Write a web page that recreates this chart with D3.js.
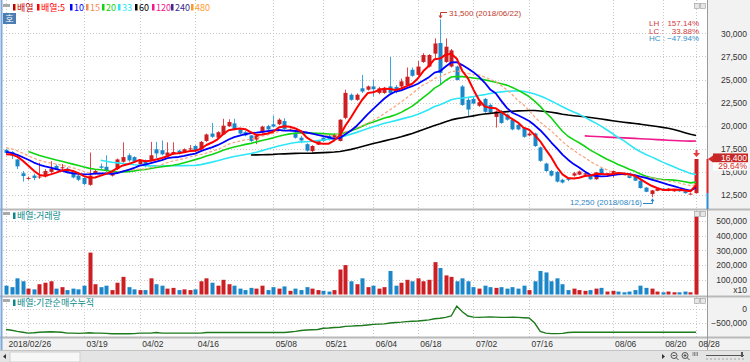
<!DOCTYPE html>
<html>
<head>
<meta charset="utf-8">
<script src="https://cdn.jsdelivr.net/npm/d3@7"></script>
<style>
  body { margin: 0; background: #fff; }
  svg { display: block; font-family: "Liberation Sans", Arial, sans-serif; }
  .kr { font-family: "Noto Sans CJK KR", sans-serif; }
</style>
</head>
<body>
<svg id="chart" width="750" height="362"></svg>
<script>
// KRX holidays inside the visible range
const holidays = ["2018-03-01", "2018-05-01", "2018-05-07", "2018-05-22", "2018-06-06", "2018-06-13", "2018-08-15"];

const tickDates = ["2018-02-26", "2018-03-19", "2018-04-02", "2018-04-16", "2018-05-08", "2018-05-21", "2018-06-04",
  "2018-06-18", "2018-07-02", "2018-07-16", "2018-08-06", "2018-08-20", "2018-08-28"];
const tickLabels = ["2018/02/26", "03/19", "04/02", "04/16", "05/08", "05/21", "06/04",
  "06/18", "07/02", "07/16", "08/06", "08/20", "08/28"];
const extraGrid = ["2018-03-05"];

const opens = [17400,17150,16350,14850,14300,14600,14400,14500,15000,15650,
  15450,15350,15100,14600,14350,13600,14850,15600,15550,14600,
  15300,16100,16800,16600,15850,16200,16250,17450,17350,16750,
  16900,17300,17150,17500,17800,17450,18350,19150,18700,19050,
  19950,20250,19600,19300,18950,18500,19250,19950,20150,20150,
  20500,19500,19250,18700,18000,17250,17950,18700,18900,18700,
  18350,20850,23350,22800,24050,23900,24250,23550,23550,24250,
  24200,24250,24400,26050,25500,26900,26400,27800,28950,26900,
  26400,26400,24250,22800,22900,22150,22900,22250,20950,21550,
  21200,20650,20100,19750,18950,19150,17650,15900,15100,15000,
  14150,14250,14600,14700,14700,14600,14200,15350,14700,14800,
  14950,14800,14750,14600,14050,13300,12600,12950,13200,12950,
  12900,13050,12900,12600,12700];
const highs = [17500,17250,16400,15100,14500,14800,16000,15300,16150,15800,
  15850,15500,15200,14700,14400,17100,15300,15900,16800,15100,
  16450,18200,17000,16700,16300,16350,18250,18250,18400,18200,
  18200,17400,17550,17900,17900,18350,19150,20300,19400,20750,
  20700,20750,19700,19450,19000,19050,20000,20100,21100,20800,
  20800,19700,19350,18900,18100,17900,18400,18750,19000,19150,
  20700,23900,23500,23500,25500,24350,25000,24200,24200,27450,
  24400,25100,26300,26300,27000,27850,27750,29450,31500,29450,
  28300,26500,24400,23000,23100,22700,23000,22400,21650,21700,
  21300,20800,20200,19850,19300,19250,17750,16000,15200,15100,
  14250,14300,15000,15150,14950,14700,15000,15450,14900,15150,
  15000,14850,14800,14650,14100,13350,13050,13200,13250,13250,
  13150,13100,12950,12750,16400];
const lows = [16950,16400,15300,13950,14150,14100,14250,14400,14900,15200,
  15150,14850,14300,14000,13550,13500,14700,15300,15000,14500,
  15200,16000,16100,15950,15750,15500,16150,16500,16800,16650,
  16850,16900,17050,17300,17150,17400,18250,18700,18600,19000,
  19850,19500,19050,18850,18250,18000,19150,19500,19800,20050,
  19550,19400,18600,18100,17200,17150,17900,18250,18400,18600,
  18300,20700,22700,22700,23550,23800,23150,23400,23450,23450,
  23500,23800,24300,25300,25400,26800,26300,27300,24450,26800,
  26300,24900,22150,21000,22300,22050,21400,21350,19800,20200,
  20550,19500,19500,18700,18850,17700,16100,15000,14500,13850,
  13750,14000,14500,14650,14600,14150,14150,14700,14650,14400,
  14650,14650,14300,14000,13200,12800,12250,12900,12950,12900,
  12850,12850,12650,12550,12650];
const closes = [17050,16750,15600,14550,14350,14350,14500,15100,15350,15300,
  15500,14950,14400,14150,13700,14600,15100,15450,15100,15000,
  16350,16600,16250,16100,16200,15650,16800,17000,16900,17100,
  17150,17000,17450,17550,17250,18250,19050,18800,19300,20000,
  20400,19600,19150,18950,18350,18950,19900,19600,19900,20650,
  19650,19600,18700,18400,17300,17800,18350,18350,18500,19050,
  20650,23550,22800,23350,23700,24250,23950,24050,24100,23550,
  23650,24800,25300,25400,26400,27650,27650,28900,25700,28550,
  28150,24950,22250,21750,22400,22550,21500,21450,21550,20300,
  20650,19600,19600,18800,19150,17800,16200,15100,14600,13950,
  13850,14150,14850,15050,14850,14200,14950,14750,14850,15100,
  14700,14700,14350,14050,13250,12850,13000,13150,13000,13200,
  13100,12900,12700,12650,16400];
// closes of the sessions before the first visible candle (feed the moving averages)
const priorCloses = [18700,18900,18600,18500,18400,18450,17900,17600,17200,17000,17400,16900,16700,16800,17050];

const volumes = [60000,50000,110000,90000,40000,35000,70000,80000,90000,40000,
  50000,30000,40000,35000,60000,285000,70000,50000,60000,30000,
  80000,120000,50000,35000,30000,30000,110000,70000,60000,40000,
  45000,30000,35000,30000,35000,90000,110000,80000,60000,100000,
  70000,60000,40000,30000,45000,40000,60000,30000,50000,40000,
  55000,25000,40000,30000,50000,40000,30000,25000,20000,30000,
  170000,200000,90000,70000,110000,50000,60000,40000,50000,160000,
  60000,80000,100000,90000,110000,90000,100000,220000,180000,130000,
  120000,90000,110000,90000,50000,40000,60000,50000,45000,50000,
  40000,50000,40000,60000,30000,90000,160000,150000,90000,110000,
  70000,30000,40000,30000,25000,30000,40000,45000,20000,25000,
  20000,15000,20000,30000,60000,45000,40000,20000,15000,20000,
  15000,15000,20000,15000,530000];

const instCum = [-730,-760,-800,-830,-860,-850,-830,-820,-810,-820,
  -830,-860,-860,-870,-860,-850,-860,-860,-870,-885,
  -885,-885,-885,-880,-860,-860,-860,-840,-860,-860,
  -860,-860,-860,-860,-860,-860,-840,-840,-840,-840,
  -840,-840,-840,-840,-840,-840,-840,-840,-840,-840,
  -840,-820,-800,-770,-750,-740,-730,-690,-680,-660,
  -650,-620,-610,-600,-590,-570,-550,-540,-530,-500,
  -480,-470,-450,-440,-430,-410,-390,-350,-330,-300,
  -250,100,-100,-250,-290,-300,-290,-280,-290,-300,
  -300,-290,-300,-310,-320,-500,-800,-860,-880,-880,
  -870,-840,-830,-830,-830,-830,-830,-830,-830,-830,
  -830,-830,-830,-830,-830,-830,-830,-830,-830,-830,
  -830,-830,-830,-830,-830].map(v => v * 1000);

const maPeriods = [5, 10, 15, 20, 33, 60, 120, 240, 480];
const maColors = ["#ff0000", "#0000ff", "#f7a47c", "#11d411", "#2ee6f5", "#000000", "#f0188c", "#3b2b8c", "#ff9a2a"];
const maWidths = [2, 1.8, 1.2, 1.6, 1.6, 1.6, 1.6, 1.5, 1.5];

const priceTicks = [12500, 15000, 17500, 20000, 22500, 25000, 27500, 30000];
const volTicks = [100000, 200000, 300000, 400000, 500000];
const instTicks = [-500000, 0];

const fmt = d3.timeFormat("%Y-%m-%d");
const dates = d3.timeDays(new Date(2018, 1, 26), new Date(2018, 7, 29))
  .filter(d => d.getDay() % 6 !== 0 && !holidays.includes(fmt(d)))
  .map(fmt);

const candles = dates.map((d, i) => ({
  date: d, o: opens[i], h: highs[i], l: lows[i], c: closes[i], v: volumes[i], inst: instCum[i]
}));

const UP = "#cc1f24", DOWN = "#1b87c9", UPW = "#e0474d", DOWNW = "#3ea6df";
const plotR = 707;

const svg = d3.select("#chart");

// backgrounds
svg.append("rect").attr("width", 750).attr("height", 362).attr("fill", "#fff");
svg.append("rect").attr("x", plotR).attr("y", 0).attr("width", 750 - plotR).attr("height", 350).attr("fill", "#f2f2f2");
svg.append("rect").attr("x", 0).attr("y", 338).attr("width", 750).attr("height", 12).attr("fill", "#f2f2f2");

const x = d3.scaleBand().domain(dates).range([3.32, 698.8]).paddingInner(0.25).paddingOuter(0.125);
const cx = d => x(d) + x.bandwidth() / 2;

const priceY = d3.scaleLinear().domain([12500, 30000]).range([195, 33.3]);
const volY = d3.scaleLinear().domain([0, 500000]).range([294.5, 221]);
const instY = d3.scaleLinear().domain([-500000, 0]).range([323, 309]);

// clip regions
const defs = svg.append("defs");
[["cp", 0, 0, 209], ["cv", 0, 211, 85], ["ci", 0, 298, 39]].forEach(([id, x0, y0, h]) => {
  defs.append("clipPath").attr("id", id).append("rect")
    .attr("x", x0).attr("y", y0).attr("width", plotR - x0).attr("height", h);
});

// grid
const grid = svg.append("g").attr("stroke", "#c9c9c9").attr("stroke-dasharray", "1,2").attr("stroke-width", 1);
tickDates.concat(extraGrid).forEach(d => {
  const gx = Math.round(cx(d)) + 0.5;
  grid.append("line").attr("x1", gx).attr("x2", gx).attr("y1", 0).attr("y2", 337);
});
priceTicks.forEach(t => grid.append("line").attr("x1", 3).attr("x2", plotR)
  .attr("y1", Math.round(priceY(t)) + 0.5).attr("y2", Math.round(priceY(t)) + 0.5));
volTicks.forEach(t => grid.append("line").attr("x1", 3).attr("x2", plotR)
  .attr("y1", Math.round(volY(t)) + 0.5).attr("y2", Math.round(volY(t)) + 0.5));
instTicks.forEach(t => grid.append("line").attr("x1", 3).attr("x2", plotR)
  .attr("y1", Math.round(instY(t)) + 0.5).attr("y2", Math.round(instY(t)) + 0.5));

// moving averages from closes
const allCloses = priorCloses.concat(closes);
const off = priorCloses.length;
function movingAvg(n) {
  return closes.map((c, i) => {
    const j = i + off;
    if (j + 1 < n) return null;
    return d3.mean(allCloses.slice(j - n + 1, j + 1));
  });
}

const priceG = svg.append("g").attr("clip-path", "url(#cp)");

// candles
const cg = priceG.selectAll(".candle").data(candles).enter().append("g").attr("class", "candle");
cg.append("line")
  .attr("x1", d => Math.round(cx(d.date)) + 0.5).attr("x2", d => Math.round(cx(d.date)) + 0.5)
  .attr("y1", d => priceY(d.h)).attr("y2", d => priceY(d.l))
  .attr("stroke", d => d.c >= d.o ? UPW : DOWNW).attr("stroke-width", 1);
cg.append("rect")
  .attr("x", d => Math.round(cx(d.date)) - 1.5)
  .attr("width", 4)
  .attr("y", d => priceY(Math.max(d.o, d.c)))
  .attr("height", d => Math.max(1, priceY(Math.min(d.o, d.c)) - priceY(Math.max(d.o, d.c))))
  .attr("fill", d => d.c >= d.o ? UP : DOWN);

// MA lines (drawn in reverse so the short ones sit on top)
maPeriods.map((p, k) => k).reverse().forEach(k => {
  const vals = movingAvg(maPeriods[k]);
  const line = d3.line()
    .defined(d => d != null)
    .x((d, i) => cx(dates[i]))
    .y(d => priceY(d));
  priceG.append("path")
    .attr("d", line(vals))
    .attr("fill", "none")
    .attr("stroke", maColors[k])
    .attr("stroke-width", maWidths[k])
    .attr("stroke-dasharray", maPeriods[k] === 15 ? "3,2" : null)
    .attr("stroke-linejoin", "round");
});

// high / low annotations
const hi = d3.greatest(candles, d => d.h);
const lo = d3.least(candles, d => d.l);
const hx = Math.round(cx(hi.date)) + 0.5;
svg.append("path").attr("d", `M${hx},${priceY(hi.h) - 2}V12.5H447`).attr("fill", "none").attr("stroke", "#c0392b");
svg.append("path").attr("d", `M${hx - 2},${priceY(hi.h) - 4}L${hx},${priceY(hi.h) - 1}L${hx + 2},${priceY(hi.h) - 4}Z`).attr("fill", "#c0392b");
svg.append("text").attr("x", 449).attr("y", 15.5).attr("font-size", 8).attr("fill", "#c0392b")
  .text(`${d3.format(",")(hi.h)} (${hi.date.replace(/-/g, "/")})`);

const lx = Math.round(cx(lo.date)) + 0.5;
svg.append("path").attr("d", `M643,203.5H${lx}V${priceY(lo.l) + 2}`).attr("fill", "none").attr("stroke", "#2b86c5");
svg.append("path").attr("d", `M${lx - 2},${priceY(lo.l) + 4}L${lx},${priceY(lo.l) + 1}L${lx + 2},${priceY(lo.l) + 4}Z`).attr("fill", "#2b86c5");
svg.append("text").attr("x", 642).attr("y", 205).attr("text-anchor", "end").attr("font-size", 8).attr("fill", "#2b86c5")
  .text(`${d3.format(",")(lo.l)} (${lo.date.replace(/-/g, "/")})`);

// upper-limit arrow over the last candle
const last = candles[candles.length - 1];
const lcx = Math.round(cx(last.date)) + 0.5;
svg.append("path").attr("d", `M${lcx - 1},150h2v3h2.5l-3.5,4l-3.5,-4h2.5z`).attr("fill", "#e8383d");

// LH / LC / HC
const ratio = [["LH :", hi.h / lo.l - 1, "#d23a3a"], ["LC :", last.c / lo.l - 1, "#d23a3a"], ["HC :", last.c / hi.h - 1, "#2f8fc9"]];
ratio.forEach(([lab, v, col], k) => {
  svg.append("text").attr("x", 649).attr("y", 26 + k * 7.5).attr("font-size", 8).attr("fill", col).text(lab);
  svg.append("text").attr("x", 699).attr("y", 26 + k * 7.5).attr("font-size", 8).attr("fill", col)
    .attr("text-anchor", "end").text(d3.format(".2f")(v * 100) + "%");
});

// volume bars
svg.append("g").attr("clip-path", "url(#cv)").selectAll("rect").data(candles).enter().append("rect")
  .attr("x", d => Math.round(cx(d.date)) - 1.5)
  .attr("width", 4)
  .attr("y", d => volY(d.v))
  .attr("height", d => volY(0) - volY(d.v))
  .attr("fill", d => d.c >= d.o ? UP : DOWN);

// institutional cumulative net buying
svg.append("g").attr("clip-path", "url(#ci)").append("path")
  .attr("d", d3.line().x(d => cx(d.date)).y(d => instY(d.inst))(candles))
  .attr("fill", "none").attr("stroke", "#1d7a1d").attr("stroke-width", 1.4);

// panel separators and frame
const sep = svg.append("g").attr("stroke", "#b9b9b9");
[209.5, 296.5, 337.5].forEach(y => sep.append("line").attr("x1", 0).attr("x2", 750).attr("y1", y).attr("y2", y).attr("stroke-width", 2));
sep.append("line").attr("x1", plotR + 0.5).attr("x2", plotR + 0.5).attr("y1", 0).attr("y2", 350).attr("stroke", "#9a9a9a");
svg.append("line").attr("x1", 1.5).attr("x2", 1.5).attr("y1", 0).attr("y2", 350).attr("stroke", "#7fa9dc").attr("stroke-width", 2);

// right axes
function rightAxis(scale, ticks, fmtFn) {
  const g = svg.append("g").attr("transform", "translate(747,0)")
    .call(d3.axisLeft(scale).tickValues(ticks).tickSize(0).tickPadding(0).tickFormat(fmtFn));
  g.select(".domain").remove();
  g.selectAll("text").attr("font-size", 8.5).attr("fill", "#333").attr("font-family", "Liberation Sans, Arial, sans-serif");
  return g;
}
rightAxis(priceY, priceTicks, d3.format(","));
rightAxis(volY, volTicks, d3.format(","));
rightAxis(instY, instTicks, d3.format(","));
svg.append("text").attr("x", 747).attr("y", 293).attr("text-anchor", "end").attr("font-size", 8.5).attr("fill", "#333").text("x10");

// current price marker
const py = priceY(last.c);
svg.append("line").attr("x1", 707.5).attr("x2", 707.5).attr("y1", py).attr("y2", 193).attr("stroke", "#d42a2a").attr("stroke-width", 2);
svg.append("line").attr("x1", 707.5).attr("x2", 707.5).attr("y1", 193).attr("y2", 209).attr("stroke", "#2f8fd0").attr("stroke-width", 2);
svg.append("path").attr("d", `M708,${py}l5,-3.5v7z`).attr("fill", "#d42a2a");
svg.append("rect").attr("x", 713).attr("y", py - 5.5).attr("width", 35).attr("height", 9).attr("fill", "#c62828");
svg.append("text").attr("x", 747).attr("y", py + 2.3).attr("text-anchor", "end").attr("font-size", 8.5).attr("fill", "#fff")
  .text(d3.format(",")(last.c));
const prev = candles[candles.length - 2];
svg.append("rect").attr("x", 713).attr("y", py + 3.5).attr("width", 35).attr("height", 8).attr("fill", "#fff");
svg.append("text").attr("x", 747).attr("y", py + 10.3).attr("text-anchor", "end").attr("font-size", 8.5).attr("fill", "#d42a2a")
  .text(d3.format(".2f")((last.c / prev.c - 1) * 100) + "%");

// x axis
const xAxis = svg.append("g").attr("transform", "translate(0,338)")
  .call(d3.axisBottom(x).tickValues(tickDates).tickSize(0).tickPadding(0)
    .tickFormat(d => tickLabels[tickDates.indexOf(d)]));
xAxis.select(".domain").remove();
xAxis.selectAll("text").attr("text-anchor", "start").attr("dx", 2.5).attr("dy", 0).attr("y", 8.5)
  .attr("font-size", 8.5).attr("fill", "#333").attr("font-family", "Liberation Sans, Arial, sans-serif");

// legends
const legendX = [13, 37, 70, 86, 102, 118, 135, 152, 171, 191];
function legend(items, y, xs) {
  let lx0 = 13;
  items.forEach(([t, col], k) => {
    if (xs) lx0 = xs[k];
    svg.append("rect").attr("x", lx0).attr("y", y - 6.5).attr("width", 2.5).attr("height", 6.5).attr("fill", col);
    const tx = svg.append("text").attr("class", "kr").attr("x", lx0 + 4).attr("y", y)
      .attr("font-size", 9).attr("fill", col).text(t);
    lx0 += 4 + tx.node().getComputedTextLength() + 3;
  });
}
legend([["배열", "#c00000"]].concat(maPeriods.map((p, k) => [k === 0 ? "배열:" + p : String(p), maColors[k] === "#f7a47c" ? "#f08a5a" : maColors[k]])), 10.5, legendX);
legend([["배열:거래량", "#0a8a8a"]], 219);
legend([["배열:기관순매수누적", "#0a8a8a"]], 306);

// little panel icons
[4, 212, 299].forEach(y => {
  svg.append("rect").attr("x", 3).attr("y", y).attr("width", 7).attr("height", 3).attr("fill", "#a9a9a9");
  svg.append("rect").attr("x", 694.5).attr("y", y - 0.5).attr("width", 5).attr("height", 5).attr("fill", "#e6e6e6").attr("stroke", "#9a9a9a").attr("stroke-width", 0.6);
  svg.append("rect").attr("x", 700.5).attr("y", y - 0.5).attr("width", 5).attr("height", 5).attr("fill", "#e6e6e6").attr("stroke", "#9a9a9a").attr("stroke-width", 0.6);
});
svg.append("rect").attr("x", 3).attr("y", 13).attr("width", 13).attr("height", 11).attr("fill", "#4c7db3");
svg.append("text").attr("class", "kr").attr("x", 9.5).attr("y", 22).attr("text-anchor", "middle").attr("font-size", 9).attr("fill", "#fff").text("호");

// scroll bar
svg.append("rect").attr("x", 0).attr("y", 350).attr("width", 750).attr("height", 12).attr("fill", "#e4e4e4");
svg.append("line").attr("x1", 0).attr("x2", 750).attr("y1", 350.5).attr("y2", 350.5).attr("stroke", "#c4c4c4");
svg.append("rect").attr("x", 10).attr("y", 352).attr("width", 70).attr("height", 10).attr("fill", "#f7f7f7").attr("stroke", "#d0d0d0");
svg.append("path").attr("d", "M3,356.5l3,-2.5v5z").attr("fill", "#333");
svg.append("path").attr("d", "M665,356.5l-3,-2.5v5z").attr("fill", "#333");
[674, 685].forEach((zx, k) => {
  svg.append("circle").attr("cx", zx).attr("cy", 355.5).attr("r", 3).attr("fill", "none").attr("stroke", "#555");
  svg.append("line").attr("x1", zx + 2).attr("y1", 357.5).attr("x2", zx + 4.5).attr("y2", 360).attr("stroke", "#555");
  svg.append("line").attr("x1", zx - 1.5).attr("x2", zx + 1.5).attr("y1", 355.5).attr("y2", 355.5).attr("stroke", "#555");
  if (k === 1) svg.append("line").attr("x1", zx).attr("x2", zx).attr("y1", 354).attr("y2", 357).attr("stroke", "#555");
});
d3.range(4).forEach(k => svg.append("line").attr("x1", 693 + k * 1.5).attr("x2", 693 + k * 1.5).attr("y1", 352).attr("y2", 356).attr("stroke", "#555").attr("stroke-width", 0.6));
svg.append("line").attr("x1", 706).attr("x2", 744).attr("y1", 355.5).attr("y2", 355.5).attr("stroke", "#555");
svg.append("rect").attr("x", 741).attr("y", 352).attr("width", 2).attr("height", 5).attr("fill", "#555");
d3.range(10).forEach(k => svg.append("line").attr("x1", 707 + k * 4).attr("x2", 707 + k * 4).attr("y1", 358).attr("y2", 360).attr("stroke", "#777").attr("stroke-width", 0.6));
</script>
</body>
</html>
